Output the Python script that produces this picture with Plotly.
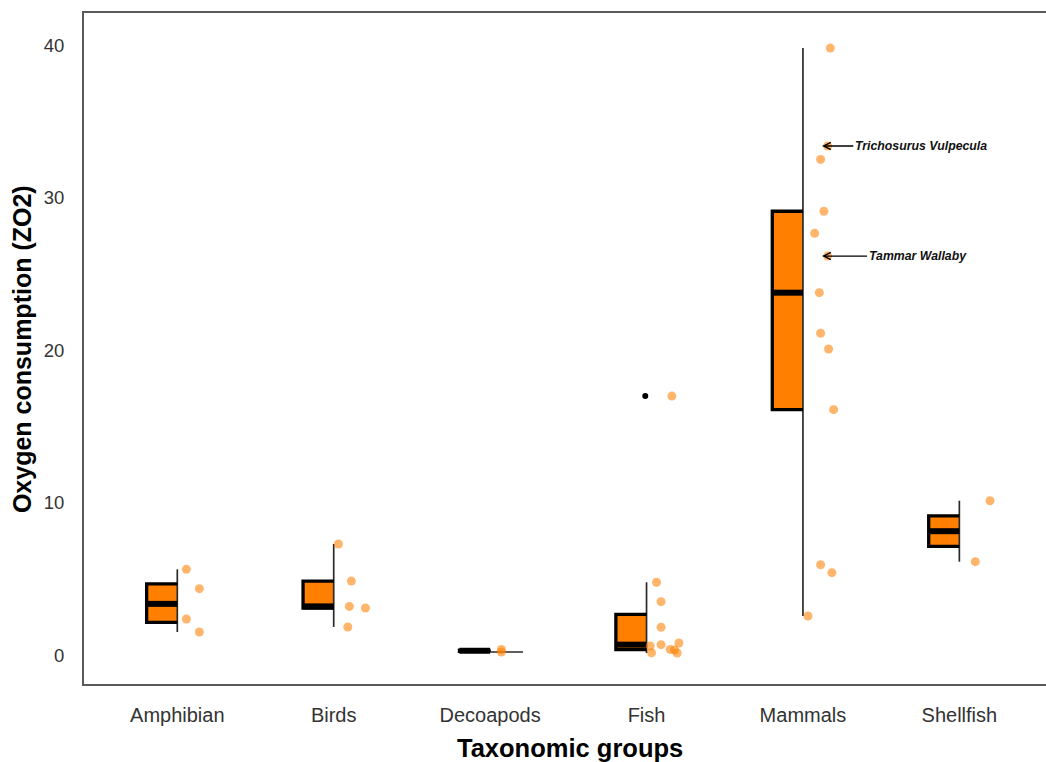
import numpy as np
import plotly.graph_objects as go

# ---------------- data ----------------
categories = ["Amphibian", "Birds", "Decoapods", "Fish", "Mammals", "Shellfish"]
amphibian = [5.62, 4.35, 2.36, 1.51]
birds = [7.28, 4.85, 3.19, 3.08, 1.84]
decoapods = [0.36, 0.20]
fish = [4.77, 3.50, 1.82, 0.68, 0.59, 0.15, 0.37, 0.33, 0.13, 0.79, 16.98]
mammals = [39.8, 33.38, 32.5, 29.1, 27.65, 26.16, 23.76, 21.1, 20.07, 16.09, 5.92, 5.40, 2.56]
shellfish = [10.12, 6.12]
y_ticks = [0, 10, 20, 30, 40]
annot_labels = ["Trichosurus Vulpecula", "Tammar Wallaby"]
annot_values = [33.38, 26.16]

# horizontal jitter of the dots (category units, to the right of the centre)
jitter_amphibian = [0.058, 0.141, 0.058, 0.141]
jitter_birds = [0.030, 0.113, 0.100, 0.203, 0.090]
jitter_decoapods = [0.072, 0.072]
jitter_fish = [0.064, 0.093, 0.093, 0.093, 0.023, 0.032, 0.151, 0.179, 0.196, 0.207, 0.162]
jitter_mammals = [0.175, 0.158, 0.113, 0.134, 0.075, 0.158, 0.105, 0.113, 0.164, 0.196, 0.113, 0.185, 0.032]
jitter_shellfish = [0.196, 0.102]

groups = [amphibian, birds, decoapods, fish, mammals, shellfish]
jitters = [jitter_amphibian, jitter_birds, jitter_decoapods, jitter_fish, jitter_mammals, jitter_shellfish]

# ---------------- styles ----------------
BOX_W = 0.196
ORANGE = "#ff8000"
DOT = "rgba(255,128,0,0.58)"
FONT = "Liberation Sans, Arial, sans-serif"

fig = go.Figure()

bar_x, bar_y, bar_base = [], [], []
ox, oy, mx, my, wx, wy, outx, outy = [], [], [], [], [], [], [], []
px, py = [], []
for i, (vals, jit) in enumerate(zip(groups, jitters)):
    c = i + 1
    v = np.array(vals, dtype=float)
    q1, med, q3 = np.percentile(v, [25, 50, 75])
    iqr = q3 - q1
    inside = v[(v >= q1 - 1.5 * iqr) & (v <= q3 + 1.5 * iqr)]
    lo, hi = inside.min(), inside.max()
    outl = v[(v < q1 - 1.5 * iqr) | (v > q3 + 1.5 * iqr)]
    bar_x.append(c - BOX_W / 2)
    bar_y.append(q3 - q1)
    bar_base.append(q1)
    ox += [c, c - BOX_W, c - BOX_W, c, None]
    oy += [q3, q3, q1, q1, None]
    mx += [c - BOX_W, c, None]
    my += [med, med, None]
    wx += [c, c, None]
    wy += [lo, hi, None]
    if categories[i] == "Decoapods":
        # flat whisker drawn horizontally for the degenerate group
        wx += [c, c + 0.21, None]
        wy += [lo, lo, None]
    for o in outl:
        outx.append(c - 0.008)
        outy.append(o)
    for val, j in zip(vals, jit):
        px.append(c + j)
        py.append(val)

fig.add_trace(go.Bar(x=bar_x, y=bar_y, base=bar_base, width=BOX_W,
                     marker=dict(color=ORANGE, line=dict(width=0)), hoverinfo="skip"))
fig.add_trace(go.Scatter(x=wx, y=wy, mode="lines", line=dict(color="#2a2a2a", width=1.7),
                         hoverinfo="skip"))
fig.add_trace(go.Scatter(x=ox, y=oy, mode="lines", line=dict(color="black", width=3.3),
                         hoverinfo="skip"))
fig.add_trace(go.Scatter(x=mx, y=my, mode="lines", line=dict(color="black", width=6),
                         hoverinfo="skip"))
fig.add_trace(go.Scatter(x=outx, y=outy, mode="markers",
                         marker=dict(color="black", size=6), hoverinfo="skip"))
fig.add_trace(go.Scatter(x=px, y=py, mode="markers",
                         marker=dict(color=DOT, size=9, line=dict(width=0))))

mam_c = categories.index("Mammals") + 1
tails = [0.322, 0.41]
for lab, val, t in zip(annot_labels, annot_values, tails):
    fig.add_annotation(x=mam_c + 0.122, y=val, ax=mam_c + t, ay=val,
                       xref="x", yref="y", axref="x", ayref="y",
                       text="<b><i>" + lab + "</i></b>", showarrow=True,
                       arrowhead=5, arrowsize=1.1, arrowwidth=1.3, arrowcolor="black",
                       xanchor="left", yanchor="middle",
                       font=dict(family=FONT, size=12.3, color="#111111"))

fig.add_annotation(x=0.505, y=-0.095, xref="paper", yref="paper",
                   text="<b>Taxonomic groups</b>", showarrow=False,
                   xanchor="center", yanchor="middle",
                   font=dict(family=FONT, size=25.5, color="black"))
fig.add_annotation(x=-0.0645, y=0.499, xref="paper", yref="paper",
                   text="<b>Oxygen consumption (ZO2)</b>", showarrow=False, textangle=-90,
                   xanchor="center", yanchor="middle",
                   font=dict(family=FONT, size=25, color="black"))

fig.update_layout(
    width=1046, height=762,
    margin=dict(l=84, r=0, t=13, b=78),
    plot_bgcolor="white", paper_bgcolor="white",
    showlegend=False, barmode="overlay",
    font=dict(family=FONT),
)
fig.update_xaxes(range=[0.4035, 6.554], tickmode="array", tickvals=list(range(1, 7)),
                 ticktext=categories, showgrid=False, zeroline=False,
                 showline=True, mirror=True, linecolor="#5a5a5a", linewidth=2,
                 ticks="", ticklabelstandoff=12,
                 tickfont=dict(family=FONT, size=20, color="#333333"))
fig.update_yaxes(range=[-1.90, 42.10], tickmode="array", tickvals=y_ticks,
                 showgrid=False, zeroline=False,
                 showline=True, linecolor="#5a5a5a", linewidth=2,
                 ticks="", ticklabelstandoff=14,
                 tickfont=dict(family=FONT, size=18.5, color="#333333"))

fig.write_html("out.html")
